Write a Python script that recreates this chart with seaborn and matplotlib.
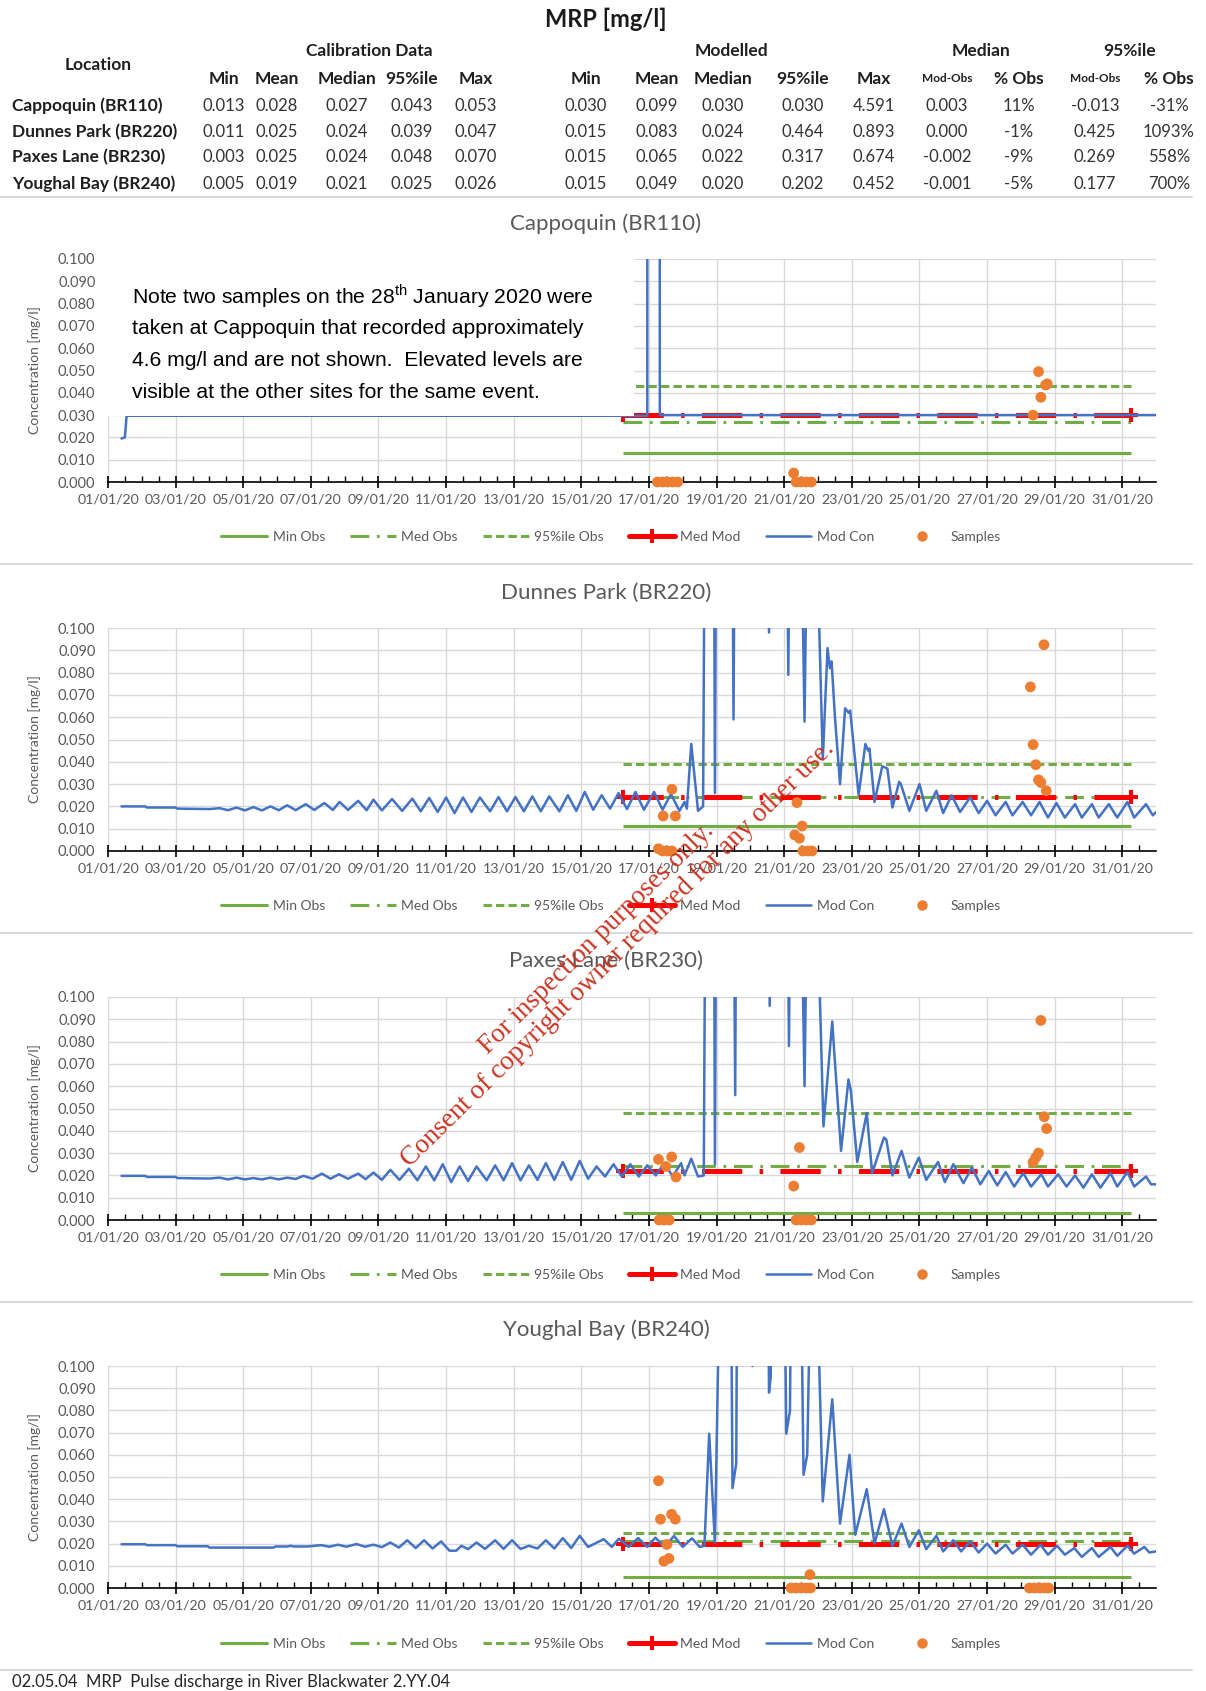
import numpy as np
import pandas as pd
import matplotlib
matplotlib.use("Agg")
import matplotlib.pyplot as plt
import matplotlib.dates as mdates
from matplotlib.lines import Line2D
from matplotlib.patches import Rectangle
from matplotlib.ticker import FormatStrFormatter
import seaborn as sns

# ---------------- table data ----------------
locations = ["Cappoquin (BR110)", "Dunnes Park (BR220)", "Paxes Lane (BR230)", "Youghal Bay (BR240)"]
cal_min = [0.013, 0.011, 0.003, 0.005]
cal_mean = [0.028, 0.025, 0.025, 0.019]
cal_median = [0.027, 0.024, 0.024, 0.021]
cal_p95 = [0.043, 0.039, 0.048, 0.025]
cal_max = [0.053, 0.047, 0.070, 0.026]
mod_min = [0.030, 0.015, 0.015, 0.015]
mod_mean = [0.099, 0.083, 0.065, 0.049]
mod_median = [0.030, 0.024, 0.022, 0.020]
mod_p95 = [0.030, 0.464, 0.317, 0.202]
mod_max = [4.591, 0.893, 0.674, 0.452]
med_diff = [0.003, 0.000, -0.002, -0.001]
med_pct = ["11%", "-1%", "-9%", "-5%"]
p95_diff = [-0.013, 0.425, 0.269, 0.177]
p95_pct = ["-31%", "1093%", "558%", "700%"]

# observation statistic lines span (day of January 2020, 1.0 = 01/01 00:00)
obs_span = [16.23, 31.25]

# ---------------- modelled concentration (day, mg/l) ----------------
cappoquin_modcon = [(1.40, 0.0195), (1.50, 0.0200), (1.55, 0.0297), (16.95, 0.0297), (16.97, 4.5910),
                    (17.25, 4.5000), (17.32, 0.0300), (32.00, 0.0300)]

dunnes_modcon = [
    (1.40, 0.0200), (2.10, 0.0200), (2.15, 0.0195), (3.00, 0.0195), (3.05, 0.0190), (4.00, 0.0188),
    (4.30, 0.0192), (4.55, 0.0183), (4.80, 0.0195), (5.05, 0.0182), (5.30, 0.0197), (5.55, 0.0182),
    (5.80, 0.0200), (6.05, 0.0183), (6.30, 0.0205), (6.55, 0.0183), (6.85, 0.0210), (7.10, 0.0184),
    (7.40, 0.0215), (7.65, 0.0184), (7.85, 0.0220), (8.10, 0.0184), (8.40, 0.0225), (8.65, 0.0183),
    (8.85, 0.0230), (9.10, 0.0182), (9.40, 0.0233), (9.70, 0.0180), (10.00, 0.0235), (10.25, 0.0178),
    (10.50, 0.0238), (10.75, 0.0175), (11.00, 0.0240), (11.25, 0.0170), (11.50, 0.0240), (11.75, 0.0175),
    (12.00, 0.0240), (12.30, 0.0178), (12.55, 0.0242), (12.80, 0.0178), (13.05, 0.0242), (13.30, 0.0178),
    (13.55, 0.0245), (13.80, 0.0178), (14.05, 0.0245), (14.35, 0.0178), (14.60, 0.0250), (14.85, 0.0180),
    (15.10, 0.0265), (15.35, 0.0185), (15.60, 0.0250), (15.85, 0.0190), (16.10, 0.0260), (16.35, 0.0188),
    (16.60, 0.0265), (16.85, 0.0185), (17.15, 0.0265), (17.40, 0.0185), (17.65, 0.0255), (17.90, 0.0180),
    (18.05, 0.0220), (18.12, 0.0190), (18.25, 0.0480), (18.45, 0.0180), (18.60, 0.0200), (18.70, 0.3000),
    (18.85, 0.5000), (18.95, 0.0260), (19.05, 0.4000), (19.30, 0.6000), (19.50, 0.0590), (19.62, 0.4000),
    (20.00, 0.8930), (20.30, 0.5000), (20.55, 0.0980), (20.70, 0.6000), (21.00, 0.3000), (21.12, 0.0790),
    (21.25, 0.3000), (21.45, 0.2000), (21.60, 0.0580), (21.72, 0.2000), (21.90, 0.4000), (22.00, 0.1200),
    (22.14, 0.0410), (22.28, 0.0910), (22.35, 0.0820), (22.40, 0.0850), (22.50, 0.0600), (22.65, 0.0300),
    (22.80, 0.0640), (22.90, 0.0620), (22.95, 0.0630), (23.20, 0.0250), (23.40, 0.0480), (23.48, 0.0450),
    (23.52, 0.0460), (23.67, 0.0220), (23.90, 0.0380), (24.05, 0.0370), (24.20, 0.0195), (24.40, 0.0310),
    (24.45, 0.0300), (24.70, 0.0180), (25.00, 0.0300), (25.20, 0.0180), (25.50, 0.0270), (25.70, 0.0170),
    (25.95, 0.0250), (26.20, 0.0175), (26.50, 0.0240), (26.75, 0.0170), (27.00, 0.0225), (27.25, 0.0160),
    (27.55, 0.0220), (27.75, 0.0160), (28.05, 0.0220), (28.30, 0.0160), (28.55, 0.0220), (28.80, 0.0150),
    (29.05, 0.0215), (29.30, 0.0150), (29.60, 0.0210), (29.80, 0.0150), (30.10, 0.0210), (30.30, 0.0150),
    (30.60, 0.0210), (30.85, 0.0150), (31.15, 0.0220), (31.35, 0.0150), (31.70, 0.0210), (31.90, 0.0160),
    (32.00, 0.0175)]

paxes_modcon = [
    (1.40, 0.0198), (2.10, 0.0198), (2.15, 0.0193), (3.00, 0.0193), (3.05, 0.0188), (4.00, 0.0186),
    (4.30, 0.0190), (4.55, 0.0182), (4.80, 0.0190), (5.05, 0.0182), (5.30, 0.0188), (5.55, 0.0182),
    (5.80, 0.0190), (6.05, 0.0182), (6.30, 0.0190), (6.55, 0.0184), (6.78, 0.0198), (7.05, 0.0185),
    (7.33, 0.0208), (7.58, 0.0185), (7.83, 0.0205), (8.10, 0.0185), (8.40, 0.0208), (8.62, 0.0183),
    (8.85, 0.0213), (9.10, 0.0180), (9.35, 0.0225), (9.62, 0.0180), (9.90, 0.0230), (10.15, 0.0178),
    (10.40, 0.0240), (10.65, 0.0178), (10.90, 0.0250), (11.15, 0.0170), (11.40, 0.0240), (11.65, 0.0175),
    (11.90, 0.0240), (12.20, 0.0178), (12.45, 0.0245), (12.70, 0.0178), (12.95, 0.0255), (13.20, 0.0178),
    (13.45, 0.0245), (13.70, 0.0180), (13.95, 0.0255), (14.20, 0.0180), (14.45, 0.0260), (14.70, 0.0180),
    (14.95, 0.0265), (15.20, 0.0185), (15.45, 0.0240), (15.70, 0.0195), (15.95, 0.0250), (16.20, 0.0195),
    (16.45, 0.0250), (16.70, 0.0195), (16.95, 0.0245), (17.20, 0.0200), (17.45, 0.0255), (17.70, 0.0195),
    (17.95, 0.0255), (18.05, 0.0200), (18.25, 0.0275), (18.45, 0.0195), (18.62, 0.0200), (18.72, 0.3000),
    (18.85, 0.5000), (18.95, 0.0250), (19.05, 0.4000), (19.30, 0.6000), (19.55, 0.0560), (19.65, 0.4000),
    (20.00, 0.6740), (20.40, 0.4000), (20.57, 0.0960), (20.70, 0.4000), (21.00, 0.3000), (21.14, 0.0780),
    (21.25, 0.3000), (21.45, 0.2000), (21.60, 0.0600), (21.72, 0.2000), (21.90, 0.3000), (21.98, 0.1400),
    (22.16, 0.0420), (22.42, 0.0890), (22.48, 0.0750), (22.55, 0.0600), (22.68, 0.0310), (22.90, 0.0630),
    (22.97, 0.0580), (23.16, 0.0260), (23.44, 0.0480), (23.60, 0.0210), (23.95, 0.0370), (24.02, 0.0360),
    (24.20, 0.0200), (24.47, 0.0310), (24.70, 0.0190), (24.98, 0.0280), (25.20, 0.0180), (25.55, 0.0260),
    (25.75, 0.0170), (26.00, 0.0250), (26.30, 0.0165), (26.55, 0.0235), (26.80, 0.0160), (27.05, 0.0220),
    (27.30, 0.0155), (27.55, 0.0215), (27.80, 0.0150), (28.07, 0.0210), (28.30, 0.0150), (28.60, 0.0205),
    (28.80, 0.0150), (29.10, 0.0205), (29.35, 0.0150), (29.60, 0.0200), (29.85, 0.0145), (30.10, 0.0205),
    (30.35, 0.0145), (30.65, 0.0210), (30.85, 0.0150), (31.15, 0.0215), (31.35, 0.0150), (31.70, 0.0195),
    (31.85, 0.0160), (32.00, 0.0160)]

youghal_modcon = [
    (1.40, 0.0197), (2.10, 0.0197), (2.15, 0.0193), (3.00, 0.0193), (3.05, 0.0188), (3.95, 0.0188),
    (4.00, 0.0182), (5.90, 0.0182), (5.95, 0.0187), (6.30, 0.0187), (6.40, 0.0190), (6.50, 0.0187),
    (6.90, 0.0187), (7.30, 0.0193), (7.55, 0.0186), (7.80, 0.0195), (8.05, 0.0186), (8.35, 0.0198),
    (8.60, 0.0186), (8.85, 0.0195), (9.10, 0.0184), (9.35, 0.0205), (9.60, 0.0182), (9.85, 0.0215),
    (10.10, 0.0180), (10.35, 0.0215), (10.60, 0.0178), (10.85, 0.0210), (11.10, 0.0168), (11.30, 0.0168),
    (11.45, 0.0190), (11.65, 0.0175), (11.90, 0.0205), (12.15, 0.0176), (12.45, 0.0215), (12.70, 0.0176),
    (12.95, 0.0215), (13.20, 0.0176), (13.45, 0.0190), (13.70, 0.0178), (13.95, 0.0215), (14.20, 0.0178),
    (14.45, 0.0225), (14.70, 0.0180), (14.95, 0.0235), (15.20, 0.0185), (15.66, 0.0220), (15.90, 0.0185),
    (16.11, 0.0222), (16.40, 0.0185), (16.68, 0.0225), (16.95, 0.0185), (17.19, 0.0227), (17.45, 0.0185),
    (17.74, 0.0234), (18.00, 0.0185), (18.27, 0.0224), (18.50, 0.0185), (18.64, 0.0190), (18.78, 0.0695),
    (18.95, 0.0204), (19.10, 0.1500), (19.20, 0.3000), (19.40, 0.2000), (19.47, 0.0450), (19.58, 0.0560),
    (19.66, 0.3000), (20.00, 0.4520), (20.06, 0.1000), (20.10, 0.4000), (20.45, 0.3000), (20.55, 0.0880),
    (20.60, 0.0950), (20.66, 0.3000), (20.90, 0.3000), (21.06, 0.0695), (21.17, 0.0800), (21.23, 0.2000),
    (21.45, 0.2000), (21.57, 0.0510), (21.68, 0.0600), (21.85, 0.2000), (21.95, 0.1500), (22.14, 0.0390),
    (22.42, 0.0850), (22.65, 0.0290), (22.93, 0.0600), (23.10, 0.0240), (23.44, 0.0445), (23.67, 0.0200),
    (23.95, 0.0355), (24.20, 0.0190), (24.47, 0.0290), (24.70, 0.0185), (24.98, 0.0260), (25.20, 0.0175),
    (25.50, 0.0235), (25.70, 0.0165), (26.00, 0.0215), (26.23, 0.0165), (26.50, 0.0210), (26.75, 0.0160),
    (27.00, 0.0200), (27.25, 0.0155), (27.55, 0.0195), (27.75, 0.0155), (28.05, 0.0195), (28.30, 0.0150),
    (28.58, 0.0195), (28.80, 0.0150), (29.07, 0.0190), (29.30, 0.0150), (29.58, 0.0180), (29.80, 0.0140),
    (30.10, 0.0180), (30.30, 0.0140), (30.65, 0.0185), (30.85, 0.0145), (31.15, 0.0190), (31.35, 0.0155),
    (31.65, 0.0185), (31.80, 0.0160), (32.00, 0.0165)]

# ---------------- samples (day, mg/l) ----------------
cap_sample_day = [17.25, 17.40, 17.55, 17.70, 17.85, 21.28, 21.35, 21.50, 21.65, 21.80, 28.36, 28.52, 28.59, 28.73, 28.78]
cap_sample_val = [0, 0, 0, 0, 0, 0.004, 0, 0, 0, 0, 0.030, 0.0495, 0.038, 0.0435, 0.044]
dun_sample_day = [17.28, 17.40, 17.55, 17.68, 17.42, 17.78, 17.68, 21.31, 21.375, 21.45, 21.53, 21.55, 21.70, 21.82,
                  28.28, 28.36, 28.44, 28.52, 28.59, 28.68, 28.75]
dun_sample_val = [0.001, 0, 0, 0, 0.0157, 0.0157, 0.0277, 0.0072, 0.0217, 0.0057, 0.0112, 0, 0, 0,
                  0.0736, 0.0477, 0.0387, 0.0319, 0.0307, 0.0925, 0.027]
pax_sample_day = [17.28, 17.50, 17.67, 17.80, 17.30, 17.45, 17.60, 21.28, 21.45, 21.35, 21.50, 21.65, 21.80,
                  28.36, 28.44, 28.52, 28.59, 28.69, 28.76]
pax_sample_val = [0.0272, 0.024, 0.0283, 0.0193, 0, 0, 0, 0.0152, 0.0325, 0, 0, 0, 0,
                  0.026, 0.028, 0.030, 0.0895, 0.0463, 0.041]
you_sample_day = [17.28, 17.34, 17.44, 17.53, 17.59, 17.67, 17.78, 21.20, 21.35, 21.50, 21.65, 21.78, 21.76,
                  28.25, 28.40, 28.55, 28.70, 28.82]
you_sample_val = [0.0483, 0.031, 0.0121, 0.0196, 0.0133, 0.0332, 0.031, 0, 0, 0, 0, 0, 0.006,
                  0, 0, 0, 0, 0]

legend_labels = ["Min Obs", "Med Obs", "95%ile Obs", "Med Mod", "Mod Con", "Samples"]

# ---------------- styling ----------------
sns.set_theme(style="white")
plt.rcParams["font.family"] = ["Lato", "DejaVu Sans"]
plt.rcParams["lines.scale_dashes"] = False
plt.rcParams["mathtext.fontset"] = "custom"
plt.rcParams["mathtext.rm"] = "Liberation Sans"

GREEN = "#70AD47"
RED = "#FF0000"
BLUE = "#4472C4"
ORANGE = "#ED7D31"
GREY = "#595959"
GRID = "#D9D9D9"
MED_DASH = (13.5, 5.5, 2.0, 5.5)
P95_DASH = (6.0, 3.0)
MM_DASH = (29.0, 12.5, 2.5, 12.5)

W, H = 1206, 1691
fig = plt.figure(figsize=(W / 100, H / 100), dpi=100)
fig.patch.set_facecolor("white")


def fx(px):
    return px / W


def fy(py):
    return 1 - py / H


def to_dt(days):
    return pd.Timestamp("2020-01-01") + pd.to_timedelta(np.asarray(days, dtype=float) - 1.0, unit="D")


# ---------------- title & table ----------------
fig.text(fx(606), fy(19), "MRP [mg/l]", ha="center", va="center", fontsize=17, fontweight="bold", color="#1a1a1a")
hdr = dict(ha="center", va="center", fontsize=12.5, fontweight="bold", color="#1f1f1f")
fig.text(fx(98), fy(65), "Location", **hdr)
fig.text(fx(369), fy(51), "Calibration Data", **hdr)
fig.text(fx(731), fy(51), "Modelled", **hdr)
fig.text(fx(981), fy(51), "Median", **hdr)
fig.text(fx(1130), fy(51), "95%ile", **hdr)
col_x = [224, 277, 347, 412, 476, 586, 657, 723, 803, 874, 947, 1019, 1095, 1169]
col_names = ["Min", "Mean", "Median", "95%ile", "Max", "Min", "Mean", "Median", "95%ile", "Max",
             "Mod-Obs", "% Obs", "Mod-Obs", "% Obs"]
for cx, cn in zip(col_x, col_names):
    if cn == "Mod-Obs":
        fig.text(fx(cx), fy(78), cn, ha="center", va="center", fontsize=8.5, fontweight="bold", color="#1f1f1f")
    else:
        fig.text(fx(cx), fy(79), cn, **hdr)
row_y = [106, 132, 157, 184]
for i, ry in enumerate(row_y):
    fig.text(fx(12), fy(ry), locations[i], ha="left", va="center", fontsize=12.5, fontweight="bold", color="#1f1f1f")
    vals = [f"{cal_min[i]:.3f}", f"{cal_mean[i]:.3f}", f"{cal_median[i]:.3f}", f"{cal_p95[i]:.3f}",
            f"{cal_max[i]:.3f}", f"{mod_min[i]:.3f}", f"{mod_mean[i]:.3f}", f"{mod_median[i]:.3f}",
            f"{mod_p95[i]:.3f}", f"{mod_max[i]:.3f}", f"{med_diff[i]:.3f}", med_pct[i],
            f"{p95_diff[i]:.3f}", p95_pct[i]]
    for cx, v in zip(col_x, vals):
        fig.text(fx(cx), fy(ry), v, ha="center", va="center", fontsize=12, color="#333333")

# separator lines
for sy in [197, 564, 933, 1302, 1670]:
    fig.add_artist(Line2D([0, fx(1192)], [fy(sy), fy(sy)], color="#D9D9D9", lw=1.5, transform=fig.transFigure))

# ---------------- panels ----------------
panels = [
    (cappoquin_modcon, cap_sample_day, cap_sample_val),
    (dunnes_modcon, dun_sample_day, dun_sample_val),
    (paxes_modcon, pax_sample_day, pax_sample_val),
    (youghal_modcon, you_sample_day, you_sample_val),
]
tops = [259, 628, 997, 1366]
bottoms = [482, 851, 1220, 1588]
title_y = [224, 593, 961, 1330]
legend_y = [537, 906, 1275, 1644]
AX_L, AX_R = 108, 1156

handles = [
    Line2D([], [], color=GREEN, lw=2.2),
    Line2D([], [], color=GREEN, lw=2.2, dashes=MED_DASH),
    Line2D([], [], color=GREEN, lw=2.2, dashes=P95_DASH),
    Line2D([], [], color=RED, lw=3.6, marker="P", ms=10, mew=0),
    Line2D([], [], color=BLUE, lw=1.8),
    Line2D([], [], ls="none", marker="o", color=ORANGE, ms=7.5, mew=0),
]

for i, (mc, sd, sv) in enumerate(panels):
    ax = fig.add_axes([fx(AX_L), fy(bottoms[i]), fx(AX_R) - fx(AX_L), (bottoms[i] - tops[i]) / H])
    ax.set_facecolor("white")
    t_lo, t_hi = to_dt([1.0, 31.995])
    ax.set_xlim(t_lo, t_hi)
    ax.set_ylim(0, 0.1)

    t0, t1 = to_dt(obs_span)
    ax.plot([t0, t1], [cal_min[i]] * 2, color=GREEN, lw=2.2, solid_capstyle="butt", zorder=3)
    ax.plot([t0, t1], [cal_median[i]] * 2, color=GREEN, lw=2.2, dashes=MED_DASH, zorder=3)
    ax.plot([t0, t1], [cal_p95[i]] * 2, color=GREEN, lw=2.2, dashes=P95_DASH, zorder=3)
    ax.plot([t0, t1], [mod_median[i]] * 2, color=RED, lw=3.6, dashes=MM_DASH, marker="P", ms=10, mew=0, zorder=4)

    df = pd.DataFrame({"t": to_dt([p[0] for p in mc]), "v": [p[1] for p in mc]})
    sns.lineplot(data=df, x="t", y="v", ax=ax, color=BLUE, lw=1.8, estimator=None, sort=False, zorder=5)
    sdf = pd.DataFrame({"t": to_dt(sd), "v": sv})
    sns.scatterplot(data=sdf, x="t", y="v", ax=ax, color=ORANGE, s=60, edgecolor="none", zorder=6, clip_on=False)

    ax.set_xlabel("")
    ax.set_ylabel("Concentration [mg/l]", color=GREY, fontsize=10)
    ax.yaxis.set_label_coords((41 - AX_L) / (AX_R - AX_L), 0.5)

    ax.set_yticks(np.linspace(0, 0.1, 11))
    ax.yaxis.set_major_formatter(FormatStrFormatter("%.3f"))
    ax.xaxis.set_major_locator(mdates.DayLocator(bymonthday=range(1, 32, 2)))
    ax.xaxis.set_major_formatter(mdates.DateFormatter("%d/%m/%y"))
    ax.xaxis.set_minor_locator(mdates.HourLocator(byhour=[0, 12]))
    ax.tick_params(axis="y", length=0, pad=9, labelsize=10.5, labelcolor=GREY)
    ax.tick_params(axis="x", which="major", direction="inout", length=9, width=1.2, color="black",
                   pad=4, labelsize=10.2, labelcolor=GREY, bottom=True)
    ax.tick_params(axis="x", which="minor", direction="in", length=4, width=1.0, color="black", bottom=True)
    ax.grid(True, which="major", axis="both", color=GRID, lw=1.0)
    ax.set_axisbelow(True)
    for s in ["top", "right", "left"]:
        ax.spines[s].set_visible(False)
    ax.spines["bottom"].set_color("black")
    ax.spines["bottom"].set_linewidth(1.2)
    if ax.get_legend() is not None:
        ax.get_legend().remove()

    fig.text(fx(606), fy(title_y[i]), locations[i], ha="center", va="center", fontsize=16, color=GREY)
    fig.legend(handles, legend_labels, loc="center", bbox_to_anchor=(fx(611), fy(legend_y[i])), ncol=6,
               frameon=False, fontsize=10, handlelength=3.3, handletextpad=0.4, columnspacing=1.8,
               labelcolor=GREY, numpoints=1)

    if i == 0:
        x0 = mdates.date2num(t_lo)
        box = Rectangle((x0, 0.02965), 15.57, 0.0710, facecolor="white", edgecolor="none", zorder=7)
        ax.add_patch(box)
        note = ["Note two samples on the 28$^{\\mathrm{th}}$ January 2020 were",
                "taken at Cappoquin that recorded approximately",
                "4.6 mg/l and are not shown.  Elevated levels are",
                "visible at the other sites for the same event."]
        for k, line in enumerate(note):
            fig.text(fx(132), fy(296 + 32 * k), line, ha="left", va="center", fontsize=15.2,
                     family=["Liberation Sans", "DejaVu Sans"], color="black")

# ---------------- watermark & footer ----------------
wm = dict(ha="center", va="center", rotation=44.5, rotation_mode="anchor", fontsize=19.5,
          family=["Liberation Serif", "DejaVu Serif"], color="#CC3322", zorder=20)
fig.text(fx(597), fy(939), "For inspection purposes only.", **wm)
fig.text(fx(618), fy(954), "Consent of copyright owner required for any other use.", **wm)

fig.text(fx(12), fy(1682), "02.05.04  MRP  Pulse discharge in River Blackwater 2.YY.04", ha="left", va="center",
         fontsize=12, color="#262626")

fig.savefig("out.png", dpi=100, facecolor="white")
